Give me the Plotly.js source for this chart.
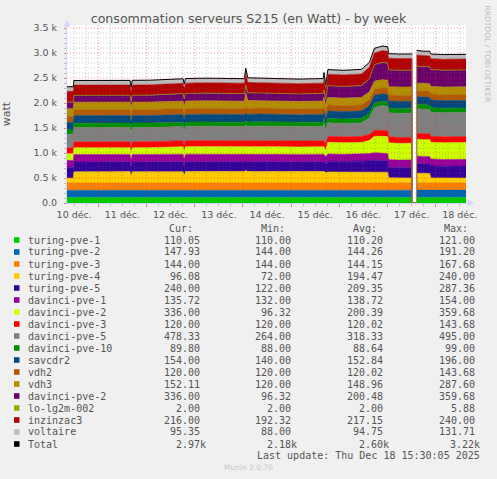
<!DOCTYPE html>
<html><head><meta charset="utf-8">
<script src="https://cdn.plot.ly/plotly-3.0.1.min.js"></script>
<style>html,body{margin:0;padding:0;background:#F0F0F0;}#chart{width:497px;height:479px;}</style>
</head><body><div id="chart"></div>
<script>
// ---------- data ----------
const times = [
 '2025-12-10 08:24','2025-12-10 11:30','2025-12-10 11:50','2025-12-10 20:00','2025-12-11 06:00','2025-12-11 15:48','2025-12-11 16:18','2025-12-11 16:54','2025-12-12 02:00','2025-12-12 12:00',
 '2025-12-12 18:12','2025-12-12 18:48','2025-12-12 19:24','2025-12-13 06:00','2025-12-13 16:00','2025-12-14 00:48','2025-12-14 01:24','2025-12-14 02:24','2025-12-14 08:00','2025-12-14 18:00',
 '2025-12-15 04:00','2025-12-15 12:00','2025-12-15 16:00','2025-12-15 16:24','2025-12-15 17:12','2025-12-15 17:48','2025-12-15 18:18','2025-12-16 02:00','2025-12-16 11:00','2025-12-16 15:00',
 '2025-12-16 17:30','2025-12-16 19:30','2025-12-16 21:30','2025-12-17 00:06','2025-12-17 00:36','2025-12-17 06:00','2025-12-17 12:18','2025-12-17 12:21','2025-12-17 14:27','2025-12-17 14:30',
 '2025-12-17 18:00','2025-12-17 21:00','2025-12-17 21:36','2025-12-18 04:00','2025-12-18 15:06'];

const turingPve1 = [110,110,110,110,110,110,110,110,110,110, 110,110,110,110,110,110,121,110,110,110, 110,110,110,110,110,110,110,110,110,110, 110,110,110,110,110,110,110,null,null,110, 110,110,110,110,110];
const turingPve2 = [144,144,144,144,144,144,144,144,144,144, 144,144,144,144,144,144,144,144,144,144, 144,144,144,144,144,144,144,144,144,144, 146,146,144,144,144,144,146,null,null,148, 147,148,148,147,148];
const turingPve3 = [144,144,144,144,144,144,144,144,144,144, 144,144,144,144,144,144,144,144,144,144, 144,144,144,144,144,168,144,144,144,144, 144,144,144,144,144,144,144,null,null,144, 144,144,144,144,144];
const turingPve4 = [100,98,225,232,228,230,130,228,232,230, 228,140,230,232,230,232,240,232,230,226, 228,230,232,232,215,200,222,220,218,222, 225,222,220,218,105,100,98,null,null,195, 190,188,100,96,96];
const turingPve5 = [215,215,195,192,196,195,190,195,193,195, 197,192,197,195,198,196,190,196,198,200, 198,196,195,195,165,200,215,212,215,222, 230,225,225,222,213,210,212,null,null,190, 188,190,240,238,240];
const davinciPve1 = [140,140,150,148,150,149,145,150,148,150, 152,150,152,150,151,150,145,150,152,150, 148,150,150,150,145,145,145,143,145,147, 150,152,154,150,152,150,152,null,null,154, 152,150,136,135,136];
const davinciPve2 = [133,133,135,136,135,134,120,135,136,142, 150,145,150,152,150,150,155,150,152,150, 148,150,150,150,120,160,235,232,235,262, 330,335,340,340,335,332,334,null,null,336, 335,336,336,336,336];
const davinciPve3 = [120,120,120,120,120,120,120,120,120,120, 120,120,120,120,120,120,120,120,120,120, 120,120,120,120,120,144,120,120,120,120, 120,120,120,120,120,120,120,null,null,120, 120,120,120,120,120];
const davinciPve5 = [270,270,285,283,287,285,285,285,283,285, 283,283,285,287,285,283,300,285,287,285, 283,285,287,360,285,275,268,265,270,330, 450,475,490,485,480,478,482,null,null,487, 485,483,480,478,478];
const davinciPve10 = [88,88,88,88,88,88,88,88,88,88, 88,88,88,88,88,88,88,88,88,88, 88,88,88,88,88,88,88,88,88,88, 90,90,90,90,90,99,90,null,null,90, 90,90,90,90,90];
const savcdr2 = [152,152,152,153,152,152,152,152,153,152, 152,152,152,153,152,152,152,152,153,152, 152,152,152,152,148,145,148,150,150,160, 160,150,150,148,147,147,147,null,null,154, 153,154,154,154,154];
const vdh2 = [120,120,120,120,120,120,120,120,120,120, 120,120,120,120,120,120,120,120,120,120, 120,120,120,120,120,144,120,120,120,120, 120,120,120,120,120,120,120,null,null,120, 120,120,120,120,120];
const vdh3 = [150,150,148,148,149,148,148,148,149,148, 148,148,148,149,148,148,287,160,149,148, 148,148,148,150,145,140,150,150,152,155, 160,165,160,165,167,167,167,null,null,152, 152,152,152,152,152];
const loLg2m002 = [2,2,2,2,2,2,2,2,2,2, 2,2,2,2,2,2,2,2,2,2, 2,2,2,2,2,2,2,2,2,2, 2,2,6,2,2,2,2,null,null,2, 2,2,2,2,2];
const inzinzac3 = [215,215,205,206,205,205,205,205,206,205, 205,205,205,206,205,205,240,210,205,205, 205,205,205,210,205,200,230,230,232,233, 235,233,235,235,233,233,233,null,null,222, 220,218,216,216,216];
const voltaire = [90,90,92,92,92,92,92,92,92,92, 92,92,92,92,92,92,92,92,92,92, 92,92,92,131,90,90,92,92,92,92, 92,92,92,90,90,90,90,null,null,92, 92,95,95,95,95];

const seriesNames = ['turing-pve-1','turing-pve-2','turing-pve-3','turing-pve-4','turing-pve-5','davinci-pve-1','davinci-pve-2','davinci-pve-3','davinci-pve-5','davinci-pve-10','savcdr2','vdh2','vdh3','davinci-pve-2','lo-lg2m-002','inzinzac3','voltaire'];
const seriesColors = ['#00CC00','#0066B3','#FF8000','#FFCC00','#330099','#990099','#CCFF00','#FF0000','#808080','#008F00','#00487D','#B35A00','#B38F00','#6B006B','#8FB300','#B30000','#BEBEBE'];
const seriesValues = [turingPve1,turingPve2,turingPve3,turingPve4,turingPve5,davinciPve1,davinciPve2,davinciPve3,davinciPve5,davinciPve10,savcdr2,vdh2,vdh3,davinciPve2,loLg2m002,inzinzac3,voltaire];

const curText = ['110.05','147.93','144.00','96.08','240.00','135.72','336.00','120.00','478.33','89.80','154.00','120.00','152.11','336.00','2.00','216.00','95.35'];
const minText = ['110.00','144.00','144.00','72.00','122.00','132.00','96.32','120.00','264.00','88.00','140.00','120.00','120.00','96.32','2.00','192.32','88.00'];
const avgText = ['110.20','144.26','144.15','194.47','209.35','138.72','200.39','120.02','318.33','88.64','152.84','120.02','148.96','200.48','2.00','217.15','94.75'];
const maxText = ['121.00','191.20','167.68','240.00','287.36','154.00','359.68','143.68','495.00','99.00','196.00','143.68','287.60','359.68','5.88','240.00','131.71'];
const totalText = ['2.97k','2.18k','2.60k','3.22k'];
const headerText = ['Cur:','Min:','Avg:','Max:'];
const yTickVals = [0,500,1000,1500,2000,2500,3000,3500];
const yTickText = ['0.0','0.5 k','1.0 k','1.5 k','2.0 k','2.5 k','3.0 k','3.5 k'];
const dayLabels = ['10','11','12','13','14','15','16','17','18'];

// ---------- build ----------
const L = 67, T = 25, W = 399, H = 178;
const px = x => (x - L) / W;
const py = y => (T + H - y) / H;

const traces = seriesValues.map((vals, i) => ({
  type: 'scatter', mode: 'lines', x: times, y: vals.map(v => v === null ? 0 : v),
  stackgroup: 'power', name: seriesNames[i],
  line: {width: 0.6, color: seriesColors[i]}, fillcolor: seriesColors[i], hoverinfo: 'skip'
}));
const totals = times.map((t, k) => seriesValues.some(s => s[k] === null) ? null : seriesValues.reduce((a, s) => a + s[k], 0));
traces.push({type: 'scatter', mode: 'lines', x: times, y: totals, name: 'Total', connectgaps: false,
  line: {width: 1, color: '#000000'}, hoverinfo: 'skip'});

// grid drawn over the areas, as rrdtool does
const shapes = [];
const minorGrid = 'rgba(110,110,110,0.38)', majorGrid = 'rgba(225,40,40,0.45)';
for (let v = 100; v <= 3500; v += 100) {
  shapes.push({type:'line', xref:'paper', yref:'y', x0:0, x1:1, y0:v, y1:v, layer:'above',
    line:{width:1, dash:'1px,2px', color: v % 500 === 0 ? majorGrid : minorGrid}});
}
dayLabels.forEach(d => ['00','06','12','18'].forEach(h => {
  const t = '2025-12-' + d + ' ' + h + ':00';
  if (t <= times[0] || t >= times[times.length - 1]) return;
  shapes.push({type:'line', xref:'x', yref:'paper', x0:t, x1:t, y0:0, y1:1, layer:'above',
    line:{width:1, dash:'1px,2px', color: h === '00' ? majorGrid : minorGrid}});
}));

const mono = {family: 'DejaVu Sans Mono', size: 10, color: '#555555'};
const ann = [];
const colRight = [201.7, 293.3, 385, 476.7];
const totRight = [208.3, 299, 390.7, 482.3];
const rowY = i => 240 + 12 * i;
headerText.forEach((h, c) => ann.push({xref:'paper', yref:'paper', x: px(colRight[c] - 6.5), y: py(228.3), text: h, showarrow:false, xanchor:'right', yanchor:'middle', font: mono}));
const legendNames = seriesNames.concat(['Total']);
const legendColors = seriesColors.concat(['#000000']);
legendNames.forEach((n, i) => {
  const y = rowY(i);
  ann.push({xref:'paper', yref:'paper', x: px(25.5), y: py(y), text: n, showarrow:false, xanchor:'left', yanchor:'middle', font: mono});
  shapes.push({type:'rect', xref:'paper', yref:'paper', x0: px(14), x1: px(19.5), y0: py(y + 2.8), y1: py(y - 2.8), fillcolor: legendColors[i], line:{width:0}, layer:'above'});
  const vals = i < seriesNames.length ? [curText[i], minText[i], avgText[i], maxText[i]] : totalText;
  const rights = i < seriesNames.length ? colRight : totRight;
  vals.forEach((v, c) => ann.push({xref:'paper', yref:'paper', x: px(rights[c]), y: py(y), text: v, showarrow:false, xanchor:'right', yanchor:'middle', font: mono}));
});
ann.push({xref:'paper', yref:'paper', x: px(482.3), y: py(455.7), text: 'Last update: Thu Dec 18 15:30:05 2025', showarrow:false, xanchor:'right', yanchor:'middle', font: mono});
ann.push({xref:'paper', yref:'paper', x: px(248.5), y: py(467.7), text: 'Munin 2.0.76', showarrow:false, xanchor:'center', yanchor:'middle', font:{family:'DejaVu Sans', size:7.5, color:'#C8C8C8'}});
ann.push({xref:'paper', yref:'paper', x: px(487), y: py(53.5), text: 'RRDTOOL / TOBI OETIKER', textangle: 90, showarrow:false, xanchor:'center', yanchor:'middle', font:{family:'DejaVu Sans', size:7.5, color:'#BBBBBB'}});
// axis arrows
ann.push({xref:'paper', yref:'paper', x: px(474), y: 0, ax: -9, ay: 0, text:'', showarrow:true, arrowhead:2, arrowsize:1.3, arrowwidth:1, arrowcolor:'#CFD6F8'});
ann.push({xref:'paper', yref:'paper', x: 0, y: py(20), ax: 0, ay: 9, text:'', showarrow:true, arrowhead:2, arrowsize:1.3, arrowwidth:1, arrowcolor:'#CFD6F8'});

const tickFont = {family:'DejaVu Sans', size: 9.5, color:'#555555'};
const layout = {
  width: 497, height: 479,
  margin: {l: L, r: 497 - L - W, t: T, b: 479 - T - H, pad: 0},
  paper_bgcolor: '#F0F0F0', plot_bgcolor: '#FFFFFF',
  showlegend: false, hovermode: false,
  font: {family: 'DejaVu Sans', color: '#555555'},
  title: {text: 'consommation serveurs S215 (en Watt) - by week', font: {family:'DejaVu Sans', size: 12.6, color:'#555555'},
          xref:'container', yref:'container', x: 0.5, xanchor:'center', y: 1 - 19/479, yanchor:'middle'},
  xaxis: {type:'date', range: [times[0], times[times.length - 1]], tick0: '2025-12-10', dtick: 86400000,
          tickformat: '%-d déc.', ticklabelmode: 'period', ticks:'outside', ticklen: 3, tickcolor:'#E08080',
          tickfont: tickFont, showgrid: false,
          minor: {dtick: 21600000, showgrid: false, ticks:'outside', ticklen:2, tickcolor:'#BBBBBB'},
          showline: true, linecolor:'#CFD6F8', linewidth: 1, zeroline: false, fixedrange: true},
  yaxis: {range: [0, 3560], tickmode:'array', tickvals: yTickVals, ticktext: yTickText, tickfont: tickFont,
          ticks:'outside', ticklen: 2, tickcolor:'#E08080', ticklabelstandoff: 5, showgrid: false,
          minor: {tickmode:'linear', tick0: 0, dtick: 100, showgrid: false, ticks:'outside', ticklen:2, tickcolor:'#BBBBBB'},
          showline: true, linecolor:'#CFD6F8', linewidth: 1, zeroline: false, fixedrange: true,
          title: {text:'watt', font:{family:'DejaVu Sans', size: 11, color:'#555555'}, standoff: 20}},
  annotations: ann, shapes: shapes
};
Plotly.newPlot('chart', traces, layout, {staticPlot: true, displayModeBar: false});
</script></body></html>
